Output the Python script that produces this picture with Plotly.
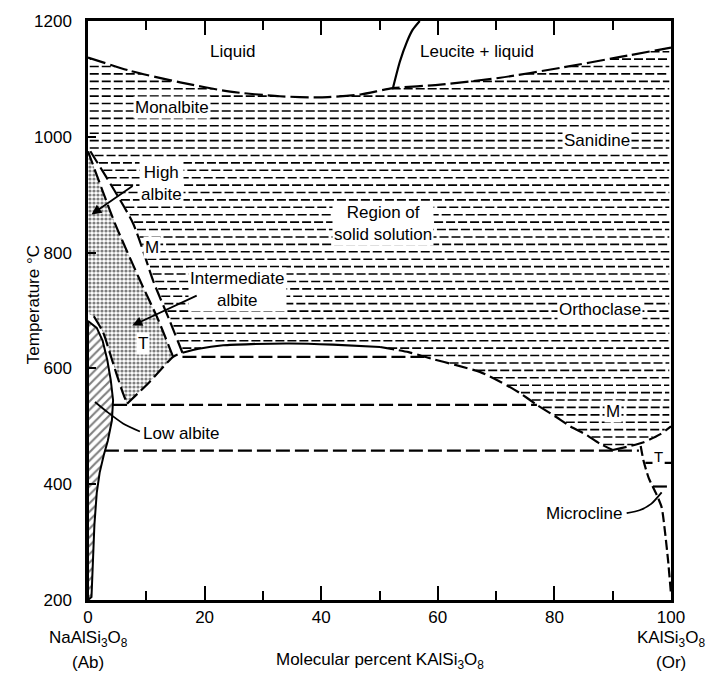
import plotly.graph_objects as go

FONT = "Liberation Sans"

# ---- phase boundaries (x: mol % KAlSi3O8, t: temperature in deg C) ----
solidus_x = [0, 7.2, 15.8, 24.4, 32.9, 39.8, 46.7, 52.3, 60.4, 70.7, 81.0, 91.3, 100]
solidus_t = [1137, 1114, 1094, 1078, 1070, 1068, 1073, 1084, 1090, 1102, 1119, 1138, 1154]

leucite_x = [52.3, 53.5, 54.7, 55.7, 56.9]
leucite_t = [1084, 1130, 1164, 1185, 1200]

# monoclinic / triclinic inversion of albite (two bounding lines)
m_left_x = [0, 4.6, 9.1, 12.0, 14.6]
m_left_t = [975, 851, 748, 685, 620]
m_right_x = [0.4, 7.7, 11.3, 13.9, 16.2]
m_right_t = [975, 851, 748, 685, 627]

# solvus (unmixing dome) with its extension down into the albite field
solvus_x = [6.7, 10.6, 14.6, 16.2, 19.0, 23.2, 28.0, 34.6, 42.0, 50.1, 55.0, 59.2,
            63.0, 67.2, 70.7, 74.0, 77.0, 80.0, 82.7, 85.5, 87.8, 90.0]
solvus_t = [539, 577, 620, 627, 634, 640, 642, 643, 641, 637, 628, 616,
            606, 594, 577, 558, 537, 518, 500, 485, 470, 459]
solvus_solid_from, solvus_solid_to = 16.2, 50.1

# orthoclase -> sanidine inversion rising to the Or side
v_right_x = [90.0, 95.2, 98.1, 100]
v_right_t = [459, 472, 486, 500]

# low albite field boundary
low_albite_x = [1.5, 2.5, 3.3, 3.9, 4.3, 4.1, 3.4, 2.7, 2.0, 1.5, 1.1, 0.8, 0.6]
low_albite_t = [670, 648, 615, 580, 545, 510, 475, 450, 420, 385, 330, 270, 205]
low_albite_top = 682

# high / intermediate albite (T) boundary
t_bound_x = [1.0, 2.6, 3.8, 4.9, 5.9, 6.7]
t_bound_t = [690, 662, 625, 590, 560, 539]

# microcline boundary on the Or side
micro_x = [94.8, 95.3, 96.2, 97.4, 98.4, 99.0, 99.5, 100]
micro_t = [466, 440, 410, 385, 360, 315, 268, 210]

# isothermal dashed lines: (temperature, x start, x end)
isotherms = [(620, 16.2, 58.6), (537, 4.3, 77.0), (458, 2.9, 94.5),
             (437, 95.6, 100), (396, 96.9, 100)]

x_ticks = [0, 20, 40, 60, 80, 100]
y_ticks = [200, 400, 600, 800, 1000, 1200]

DASH = "14px,5px"
LW = 2.2


def scan_fill(px, pt, levels):
    """Horizontal line segments filling a polygon at the given levels."""
    xs, ts = [], []
    n = len(px)
    for lev in levels:
        cuts = []
        for i in range(n):
            x1, t1 = px[i], pt[i]
            x2, t2 = px[(i + 1) % n], pt[(i + 1) % n]
            if (t1 <= lev < t2) or (t2 <= lev < t1):
                cuts.append(x1 + (lev - t1) * (x2 - x1) / (t2 - t1))
        cuts.sort()
        for a, b in zip(cuts[0::2], cuts[1::2]):
            xs += [a + 0.3, b - 0.3, None]
            ts += [lev, lev, None]
    return xs, ts


fig = go.Figure()

# --- solid solution field (dashed horizontal ruling) ---
hi_idx = [i for i, x in enumerate(solvus_x) if x >= 16.2]
poly_x = list(solidus_x) + [100] + v_right_x[::-1][1:]
poly_t = list(solidus_t) + [500] + v_right_t[::-1][1:]
poly_x += [solvus_x[i] for i in reversed(hi_idx)][1:]
poly_t += [solvus_t[i] for i in reversed(hi_idx)][1:]
poly_x += m_right_x[::-1][1:] + [0]
poly_t += m_right_t[::-1][1:] + [975]
levels = [1147 - 12.8 * k for k in range(60)]
levels = [v for v in levels if v > 461]
hx, ht = scan_fill(poly_x, poly_t, levels)
fig.add_trace(go.Scatter(x=hx, y=ht, mode="lines",
                         line=dict(color="black", width=1.6, dash="9px,3px"),
                         hoverinfo="skip"))

# --- high / intermediate albite field (stipple) ---
lo_idx = [i for i, x in enumerate(solvus_x) if x <= 14.6]
st_x = list(m_left_x) + [solvus_x[i] for i in reversed(lo_idx)][1:] + t_bound_x[::-1][1:] + [0]
st_t = list(m_left_t) + [solvus_t[i] for i in reversed(lo_idx)][1:] + t_bound_t[::-1][1:] + [695]
fig.add_trace(go.Scatter(x=st_x, y=st_t, mode="lines", fill="toself",
                         line=dict(width=0, color="rgba(0,0,0,0)"),
                         fillcolor="rgba(0,0,0,0)",
                         fillpattern=dict(shape=".", size=4, solidity=0.5,
                                          fgcolor="black", bgcolor="white"),
                         hoverinfo="skip"))

# --- low albite field (diagonal ruling) ---
la_x = [0, 0] + low_albite_x + [0]
la_t = [200, low_albite_top] + low_albite_t + [200]
fig.add_trace(go.Scatter(x=la_x, y=la_t, mode="lines", fill="toself",
                         line=dict(width=2, color="black"),
                         fillcolor="rgba(0,0,0,0)",
                         fillpattern=dict(shape="/", size=6, solidity=0.35,
                                          fgcolor="black", bgcolor="white"),
                         hoverinfo="skip"))


def add_line(x, t, dash=DASH, width=LW, shape="spline"):
    fig.add_trace(go.Scatter(x=x, y=t, mode="lines",
                             line=dict(color="black", width=width, dash=dash,
                                       shape=shape, smoothing=0.6),
                             hoverinfo="skip"))


add_line(solidus_x, solidus_t, dash="18px,5px")
add_line(leucite_x, leucite_t, dash="solid")
add_line(m_left_x, m_left_t)
add_line(m_right_x, m_right_t)
add_line(t_bound_x, t_bound_t)

seg_a = [i for i, x in enumerate(solvus_x) if x <= solvus_solid_from]
seg_b = [i for i, x in enumerate(solvus_x) if solvus_solid_from <= x <= solvus_solid_to]
seg_c = [i for i, x in enumerate(solvus_x) if x >= solvus_solid_to]
add_line([solvus_x[i] for i in seg_a], [solvus_t[i] for i in seg_a])
add_line([solvus_x[i] for i in seg_b], [solvus_t[i] for i in seg_b], dash="solid")
add_line([solvus_x[i] for i in seg_c], [solvus_t[i] for i in seg_c])
add_line(v_right_x, v_right_t)
add_line(micro_x, micro_t, dash="10px,4px")
for t, xa, xb in isotherms:
    add_line([xa, xb], [t, t], shape="linear")

# leader lines
add_line([8.9, 6.0, 3.4, 1.2], [491, 505, 524, 542], dash="solid", width=1.8)
add_line([92.4, 94.6, 96.6, 98.4], [350, 355, 366, 386], dash="solid", width=1.8)

# ---- labels ----
def label(text, x, y, bg=True, size=17):
    fig.add_annotation(x=x, y=y, text=text, showarrow=False,
                       font=dict(family=FONT, size=size, color="black"),
                       bgcolor="white" if bg else None, borderpad=1)


label("Liquid", 24.7, 1147)
label("Leucite + liquid", 66.7, 1147)
label("Monalbite", 14.4, 1051)
label("Sanidine", 87.3, 993)
label("High<br>albite", 12.6, 919)
label("Region of<br>solid solution", 50.6, 851)
label("Intermediate<br>albite", 25.7, 736)
label("Orthoclase", 87.8, 702)
label("M", 11.0, 808)
label("T", 9.4, 643)
label("M", 90.0, 525)
label("T", 97.8, 448, size=15)
label("Low albite", 16.1, 488, bg=False)
label("Microcline", 85.2, 349, bg=False)

for hx_, hy_, tx_, ty_ in [(0.6, 866, 7.9, 917), (7.6, 674, 18.9, 727)]:
    fig.add_annotation(x=hx_, y=hy_, ax=tx_, ay=ty_, axref="x", ayref="y",
                       xref="x", yref="y", text="", showarrow=True,
                       arrowhead=2, arrowsize=1.1, arrowwidth=1.8, arrowcolor="black")

sub_font = dict(family=FONT, size=17, color="black")
fig.add_annotation(x=0, y=0, xref="x", yref="paper", yshift=-39, yanchor="middle",
                   text="NaAlSi<sub>3</sub>O<sub>8</sub>", showarrow=False, font=sub_font)
fig.add_annotation(x=0, y=0, xref="x", yref="paper", yshift=-62, yanchor="middle",
                   text="(Ab)", showarrow=False, font=sub_font)
fig.add_annotation(x=100, y=0, xref="x", yref="paper", yshift=-39, yanchor="middle",
                   text="KAlSi<sub>3</sub>O<sub>8</sub>", showarrow=False, font=sub_font)
fig.add_annotation(x=100, y=0, xref="x", yref="paper", yshift=-62, yanchor="middle",
                   text="(Or)", showarrow=False, font=sub_font)
fig.add_annotation(x=50, y=0, xref="x", yref="paper", yshift=-61, yanchor="middle",
                   text="Molecular percent KAlSi<sub>3</sub>O<sub>8</sub>",
                   showarrow=False, font=sub_font)
fig.add_annotation(x=0, y=0.51, xref="paper", yref="paper", xshift=-66,
                   text="Temperature °C", textangle=-90, showarrow=False,
                   font=sub_font)

fig.update_xaxes(range=[0, 100], tickvals=x_ticks, ticktext=[str(v) for v in x_ticks],
                 ticks="inside", ticklen=14, tickwidth=2, tickcolor="black",
                 minor=dict(ticks="inside", ticklen=9, tickwidth=2, dtick=10,
                            tick0=0, tickcolor="black"),
                 showline=True, linewidth=2.5, linecolor="black", mirror="ticks",
                 showgrid=False, zeroline=False,
                 tickfont=dict(family=FONT, size=17, color="black"))
fig.update_yaxes(range=[200, 1200], tickvals=y_ticks, ticktext=[str(v) for v in y_ticks],
                 ticks="inside", ticklen=8, tickwidth=2, tickcolor="black",
                 showline=True, linewidth=2.5, linecolor="black", mirror=True,
                 showgrid=False, zeroline=False, ticklabelstandoff=10,
                 tickfont=dict(family=FONT, size=17, color="black"))
fig.update_layout(width=710, height=677, margin=dict(l=88, r=39, t=16, b=77),
                  plot_bgcolor="white", paper_bgcolor="white", showlegend=False,
                  font=dict(family=FONT, size=17, color="black"))

fig.write_html("out.html")
